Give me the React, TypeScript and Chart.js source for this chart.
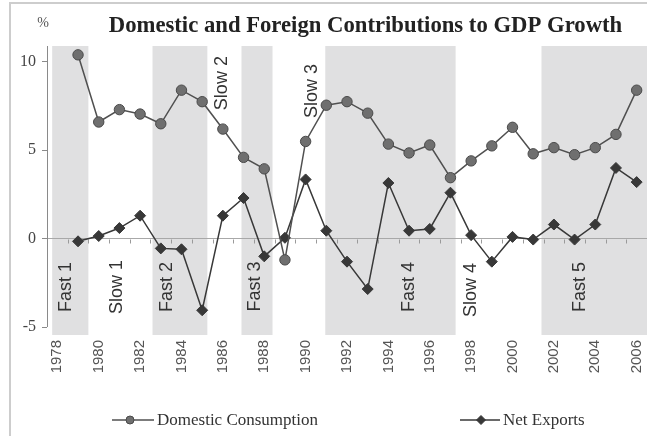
import React, { useEffect, useRef } from 'react';
import { Chart, registerables } from 'chart.js';

Chart.register(...registerables);

const years = [1979, 1980, 1981, 1982, 1983, 1984, 1985, 1986, 1987, 1988, 1989, 1990, 1991, 1992, 1993, 1994, 1995, 1996, 1997, 1998, 1999, 2000, 2001, 2002, 2003, 2004, 2005, 2006];
const domesticConsumption = [10.4, 6.6, 7.3, 7.05, 6.5, 8.4, 7.75, 6.2, 4.6, 3.95, -1.2, 5.5, 7.55, 7.75, 7.1, 5.35, 4.85, 5.3, 3.45, 4.4, 5.25, 6.3, 4.8, 5.15, 4.75, 5.15, 5.9, 8.4];
const netExports = [-0.15, 0.15, 0.6, 1.3, -0.55, -0.6, -4.05, 1.3, 2.3, -1.0, 0.05, 3.35, 0.45, -1.3, -2.85, 3.15, 0.45, 0.55, 2.6, 0.2, -1.3, 0.1, -0.05, 0.8, -0.05, 0.8, 4.0, 3.2];
const xTickYears = [1978, 1980, 1982, 1984, 1986, 1988, 1990, 1992, 1994, 1996, 1998, 2000, 2002, 2004, 2006];
const yTickValues = [-5, 0, 5, 10];
const fastPeriodStarts = [1977.75, 1982.6, 1986.9, 1990.95, 2001.4];
const fastPeriodEnds = [1979.5, 1985.25, 1988.4, 1997.25, 2006.5];
const phaseLabels = ['Fast 1', 'Slow 1', 'Fast 2', 'Slow 2', 'Fast 3', 'Slow 3', 'Fast 4', 'Slow 4', 'Fast 5'];
const phaseLabelYears = [1978.42, 1980.88, 1983.3, 1985.96, 1987.55, 1990.31, 1995.0, 1998.0, 2003.27];
const phaseLabelValues = [-2.73, -2.73, -2.73, 8.8, -2.7, 8.35, -2.73, -2.9, -2.73];
const chartTitle = 'Domestic and Foreign Contributions to GDP Growth';
const unitLabel = '%';

const X_MIN = 1977.5;
const X_MAX = 2006.5;
const Y_MIN = -5.45;
const Y_MAX = 10.9;

function drawMarker(ctx: CanvasRenderingContext2D, style: string, x: number, y: number, r: number, fill: string, stroke: string) {
  ctx.beginPath();
  if (style === 'circle') {
    ctx.arc(x, y, r, 0, Math.PI * 2);
  } else {
    ctx.moveTo(x, y - r);
    ctx.lineTo(x + r, y);
    ctx.lineTo(x, y + r);
    ctx.lineTo(x - r, y);
    ctx.closePath();
  }
  ctx.fillStyle = fill;
  ctx.fill();
  ctx.lineWidth = 1;
  ctx.strokeStyle = stroke;
  ctx.stroke();
}

const decorPlugin = {
  id: 'decor',
  beforeDraw(chart: any) {
    const { ctx, chartArea: a, scales } = chart;
    const x = scales.x;
    ctx.save();
    ctx.fillStyle = '#ffffff';
    ctx.fillRect(0, 0, chart.width, chart.height);
    // outer frame
    ctx.strokeStyle = '#cdcdcd';
    ctx.lineWidth = 2;
    ctx.beginPath();
    ctx.moveTo(10, chart.height);
    ctx.lineTo(10, 3);
    ctx.lineTo(chart.width, 3);
    ctx.stroke();
    // shaded fast-growth periods
    ctx.fillStyle = '#e0e0e1';
    for (let i = 0; i < fastPeriodStarts.length; i++) {
      const x0 = x.getPixelForValue(fastPeriodStarts[i]);
      const x1 = x.getPixelForValue(fastPeriodEnds[i]);
      ctx.fillRect(x0, a.top, x1 - x0, a.bottom - a.top);
    }
    ctx.restore();
  },
  beforeDatasetsDraw(chart: any) {
    const { ctx, chartArea: a, scales } = chart;
    const x = scales.x;
    const y = scales.y;
    ctx.save();
    // y axis line (top to -5)
    ctx.strokeStyle = '#8a8a8a';
    ctx.lineWidth = 1;
    ctx.beginPath();
    ctx.moveTo(a.left + 0.5, a.top);
    ctx.lineTo(a.left + 0.5, y.getPixelForValue(-5));
    ctx.stroke();
    // small tick marks on the zero line between years
    const y0 = Math.round(y.getPixelForValue(0)) + 0.5;
    ctx.strokeStyle = '#9a9a9a';
    ctx.beginPath();
    for (let v = 1978.5; v < X_MAX; v += 1) {
      const px = Math.round(x.getPixelForValue(v)) + 0.5;
      ctx.moveTo(px, y0);
      ctx.lineTo(px, y0 + 4);
    }
    ctx.stroke();
    // phase labels
    ctx.fillStyle = '#333333';
    ctx.font = '18px "Liberation Sans", Arial, sans-serif';
    ctx.textAlign = 'center';
    ctx.textBaseline = 'middle';
    for (let i = 0; i < phaseLabels.length; i++) {
      ctx.save();
      ctx.translate(x.getPixelForValue(phaseLabelYears[i]), y.getPixelForValue(phaseLabelValues[i]));
      ctx.rotate(-Math.PI / 2);
      ctx.fillText(phaseLabels[i], 0, 0);
      ctx.restore();
    }
    ctx.restore();
  },
  afterDraw(chart: any) {
    const { ctx } = chart;
    ctx.save();
    // title
    ctx.fillStyle = '#222222';
    ctx.font = 'bold 22.7px "Liberation Serif", "Times New Roman", serif';
    ctx.textAlign = 'center';
    ctx.textBaseline = 'alphabetic';
    ctx.fillText(chartTitle, 365.5, 32);
    // unit label
    ctx.fillStyle = '#555555';
    ctx.font = '14px "Liberation Serif", serif';
    ctx.fillText(unitLabel, 43, 27);
    // legend
    const ds = chart.data.datasets;
    const items = [
      { x0: 112, x1: 154, mx: 130, style: 'circle', r: 4 },
      { x0: 460, x1: 500, mx: 481, style: 'diamond', r: 4.5 },
    ];
    const ly = 420;
    ctx.font = '17px "Liberation Serif", "Times New Roman", serif';
    ctx.textAlign = 'left';
    ctx.textBaseline = 'middle';
    items.forEach((it, i) => {
      const d = ds[i];
      ctx.strokeStyle = d.borderColor;
      ctx.lineWidth = 1.5;
      ctx.beginPath();
      ctx.moveTo(it.x0, ly);
      ctx.lineTo(it.x1, ly);
      ctx.stroke();
      drawMarker(ctx, it.style, it.mx, ly, it.r, d.pointBackgroundColor, d.pointBorderColor);
      ctx.fillStyle = '#333333';
      ctx.fillText(d.label, it.x1 + 3, ly + 1);
    });
    ctx.restore();
  },
};

export default function App() {
  const ref = useRef<HTMLCanvasElement | null>(null);
  useEffect(() => {
    if (!ref.current) return;
    const chart = new Chart(ref.current, {
      type: 'line',
      data: {
        datasets: [
          {
            label: 'Domestic Consumption',
            data: years.map((yr, i) => ({ x: yr, y: domesticConsumption[i] })),
            borderColor: '#505050',
            borderWidth: 1.5,
            pointStyle: 'circle',
            pointRadius: 5.2,
            pointBackgroundColor: '#6f6f6f',
            pointBorderColor: '#4a4a4a',
            pointBorderWidth: 1,
            tension: 0,
            clip: false,
          },
          {
            label: 'Net Exports',
            data: years.map((yr, i) => ({ x: yr, y: netExports[i] })),
            borderColor: '#383838',
            borderWidth: 1.5,
            pointStyle: 'rectRot',
            pointRadius: 5.5,
            pointBackgroundColor: '#383838',
            pointBorderColor: '#383838',
            pointBorderWidth: 1,
            tension: 0,
            clip: false,
          },
        ],
      },
      options: {
        animation: false,
        responsive: false,
        layout: { autoPadding: false, padding: { top: 46, left: 0, right: 0, bottom: 41 } },
        plugins: {
          legend: { display: false },
          title: { display: false },
          tooltip: { enabled: false },
        },
        scales: {
          x: {
            type: 'linear',
            min: X_MIN,
            max: X_MAX,
            afterBuildTicks: (s: any) => {
              s.ticks = xTickYears.map((v) => ({ value: v }));
            },
            afterFit: (s: any) => {
              s.height = 60;
              s.paddingLeft = 0;
              s.paddingRight = 0;
            },
            grid: { display: false, drawTicks: false },
            border: { display: false },
            ticks: {
              autoSkip: false,
              minRotation: 90,
              maxRotation: 90,
              padding: 5,
              color: '#555555',
              font: { family: '"Liberation Sans", Arial, sans-serif', size: 15 },
              callback: (v: any) => String(v),
            },
          },
          y: {
            type: 'linear',
            min: Y_MIN,
            max: Y_MAX,
            afterBuildTicks: (s: any) => {
              s.ticks = yTickValues.map((v) => ({ value: v }));
            },
            afterFit: (s: any) => {
              s.width = 47;
              s.paddingTop = 0;
              s.paddingBottom = 0;
            },
            border: { display: false },
            grid: {
              color: (c: any) => (c.tick && c.tick.value === 0 ? '#a8a8a8' : 'rgba(0,0,0,0)'),
              tickColor: '#8a8a8a',
              tickLength: 5,
              lineWidth: 1,
            },
            ticks: {
              padding: 6,
              color: '#444444',
              font: { family: '"Liberation Serif", "Times New Roman", serif', size: 16 },
              callback: (v: any) => String(v),
            },
          },
        },
      },
      plugins: [decorPlugin],
    } as any);
    return () => chart.destroy();
  }, []);
  return (
    <div style={{ position: 'absolute', left: 0, top: 0, width: 647, height: 436 }}>
      <canvas ref={ref} width={647} height={436} />
    </div>
  );
}
